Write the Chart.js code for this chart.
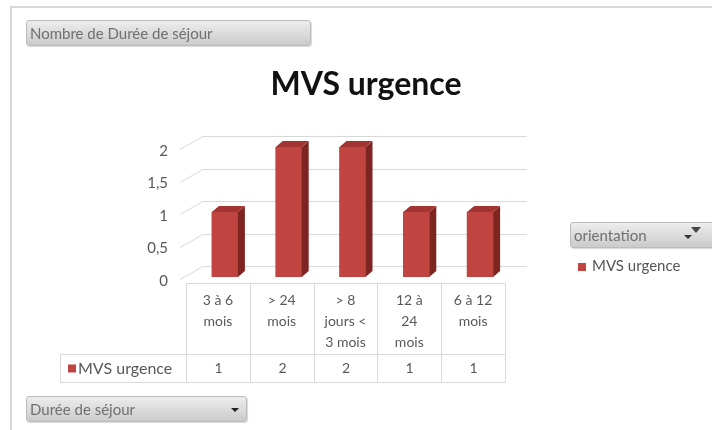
<!DOCTYPE html>
<html>
<head>
<meta charset="utf-8">
<script src="https://cdn.jsdelivr.net/npm/chart.js@4/dist/chart.umd.min.js"></script>
<style>
  body { margin: 0; background: #fff; font-family: Lato, "Open Sans", sans-serif; }
  #wrap { position: relative; width: 712px; height: 430px; overflow: hidden; }
  #frame { position: absolute; left: 10px; top: 6px; width: 730px; height: 450px; border: 2px solid #d9d9d9; box-sizing: border-box; }
  canvas { position: absolute; left: 0; top: 0; }
  .btn { position: absolute; height: 26px; line-height: 25px; box-sizing: border-box; padding-left: 3px;
         font-size: 15px; color: #707070; border: 1px solid #bcbcbc; border-radius: 3px;
         background: linear-gradient(#ededed, #cbcbcb); box-shadow: 1px 1px 1px rgba(0,0,0,0.15); }
  #title { position: absolute; left: 0; width: 732px; top: 63px; text-align: center; font: bold 32px Lato, sans-serif; color: #111; }
  .arrow { position: absolute; width: 0; height: 0; border-left: 4px solid transparent; border-right: 4px solid transparent; border-top: 4px solid #222; }
  #legend { position: absolute; left: 578px; top: 256px; font-size: 15px; color: #555; }
  #legend i { display: inline-block; width: 8px; height: 8px; background: #c0443f; margin-right: 6px; }
</style>
</head>
<body>
<div id="wrap">
  <div id="frame"></div>
  <canvas id="chart" width="712" height="430"></canvas>
  <div id="title">MVS urgence</div>
  <div class="btn" style="left:26px;top:20px;width:285px;">Nombre de Durée de séjour</div>
  <div class="btn" style="left:26px;top:396px;width:221px;">Durée de séjour<span class="arrow" style="left:204px;top:11px;"></span></div>
  <div class="btn" style="left:570px;top:222px;width:146px;">orientation<span class="arrow" style="left:113px;top:12px;border-top-color:#333;"></span>
    <span class="arrow" style="left:120px;top:4px;border-left-width:5px;border-right-width:5px;border-top:6px solid #444;"></span></div>
  <div id="legend"><i></i>MVS urgence</div>
</div>
<script>
// Data
const categories = [['3 à 6', 'mois'], ['> 24', 'mois'], ['> 8', 'jours <', '3 mois'], ['12 à', '24', 'mois'], ['6 à 12', 'mois']];
const seriesName = 'MVS urgence';
const values = [1, 2, 2, 1, 1];
const yTicks = [0, 0.5, 1, 1.5, 2];

// 3D look
const depth = { barDx: 7, barDy: 6, backDx: 15, backDy: 11, frontDx: -7, frontDy: 6 };
const gridColor = '#d9d9d9';
const textColor = '#595959';

// Back wall, left wall and gridlines
const wallsPlugin = {
  id: 'walls',
  beforeDatasetsDraw(chart) {
    const { ctx, chartArea, scales: { y } } = chart;
    ctx.save();
    ctx.strokeStyle = gridColor;
    ctx.lineWidth = 1;
    yTicks.forEach(v => {
      const py = Math.round(y.getPixelForValue(v)) + 0.5;
      const by = py - depth.backDy;
      ctx.beginPath();
      ctx.moveTo(chartArea.left - 13, py + 2);
      ctx.lineTo(chartArea.left + 10, by);
      ctx.lineTo(chartArea.right + depth.backDx, by);
      ctx.stroke();
    });
    ctx.restore();
  }
};

// Side and top faces of the bars
const bars3dPlugin = {
  id: 'bars3d',
  afterDatasetsDraw(chart) {
    const { ctx } = chart;
    const { barDx: dx, barDy: dy } = depth;
    chart.getDatasetMeta(0).data.forEach(bar => {
      const l = bar.x - bar.width / 2;
      const r = bar.x + bar.width / 2;
      ctx.save();
      ctx.fillStyle = '#7e2522';
      ctx.beginPath();
      ctx.moveTo(r, bar.y);
      ctx.lineTo(r + dx, bar.y - dy);
      ctx.lineTo(r + dx, bar.base - dy);
      ctx.lineTo(r, bar.base);
      ctx.closePath();
      ctx.fill();
      ctx.fillStyle = '#a23532';
      ctx.beginPath();
      ctx.moveTo(l, bar.y);
      ctx.lineTo(l + dx, bar.y - dy);
      ctx.lineTo(r + dx, bar.y - dy);
      ctx.lineTo(r, bar.y);
      ctx.closePath();
      ctx.fill();
      ctx.restore();
    });
  }
};

// Data table below the plot
const dataTablePlugin = {
  id: 'dataTable',
  afterDraw(chart) {
    const { ctx, scales: { x, y } } = chart;
    const top = Math.round(y.getPixelForValue(0)) + depth.frontDy + 0.5;
    const row1 = top + 71;
    const row2 = top + 99;
    const keyLeft = 60.5;
    const bounds = [];
    for (let i = 0; i <= values.length; i++) {
      bounds.push(Math.round(x.getPixelForValue(i - 0.5) + depth.frontDx) + 0.5);
    }
    const right = bounds[bounds.length - 1];
    ctx.save();
    ctx.strokeStyle = gridColor;
    ctx.lineWidth = 1;
    ctx.beginPath();
    ctx.moveTo(bounds[0], top);
    ctx.lineTo(right, top);
    ctx.moveTo(keyLeft, row1);
    ctx.lineTo(right, row1);
    ctx.moveTo(keyLeft, row2);
    ctx.lineTo(right, row2);
    ctx.moveTo(keyLeft, row1);
    ctx.lineTo(keyLeft, row2);
    bounds.forEach(bx => {
      ctx.moveTo(bx, top);
      ctx.lineTo(bx, row2);
    });
    ctx.stroke();

    ctx.font = '14px Lato, sans-serif';
    ctx.fillStyle = textColor;
    ctx.textAlign = 'center';
    ctx.textBaseline = 'middle';
    const midY = (row1 + row2) / 2;
    values.forEach((v, i) => {
      ctx.fillText(String(v), (bounds[i] + bounds[i + 1]) / 2, midY);
    });
    ctx.fillStyle = '#c0443f';
    ctx.fillRect(68, midY - 4, 8, 8);
    ctx.fillStyle = textColor;
    ctx.textAlign = 'left';
    ctx.font = '16px Lato, sans-serif';
    ctx.fillText(seriesName, 78, midY);
    ctx.restore();
  }
};

Chart.defaults.font.family = 'Lato, sans-serif';

new Chart(document.getElementById('chart'), {
  type: 'bar',
  data: {
    labels: categories,
    datasets: [{
      label: seriesName,
      data: values,
      backgroundColor: '#c0443f',
      barThickness: 26
    }]
  },
  options: {
    responsive: false,
    animation: false,
    layout: { padding: { left: 100, right: 200, top: 147, bottom: 73 } },
    plugins: {
      legend: { display: false },
      title: { display: false },
      tooltip: { enabled: false }
    },
    scales: {
      x: {
        grid: { display: false, drawTicks: false },
        border: { display: false },
        ticks: {
          padding: 13,
          labelOffset: depth.frontDx,
          color: textColor,
          font: { size: 14, lineHeight: 1.5 }
        },
        afterFit(scale) { scale.height = 80; }
      },
      y: {
        min: 0,
        max: 2,
        grid: { display: false, drawTicks: false },
        border: { display: false },
        afterBuildTicks(scale) { scale.ticks = yTicks.map(v => ({ value: v })); },
        ticks: {
          padding: 25,
          labelOffset: 4,
          color: textColor,
          font: { size: 15 },
          callback: v => String(v).replace('.', ',')
        },
        afterFit(scale) { scale.width = 93; }
      }
    }
  },
  plugins: [wallsPlugin, bars3dPlugin, dataTablePlugin]
});
</script>
</body>
</html>
